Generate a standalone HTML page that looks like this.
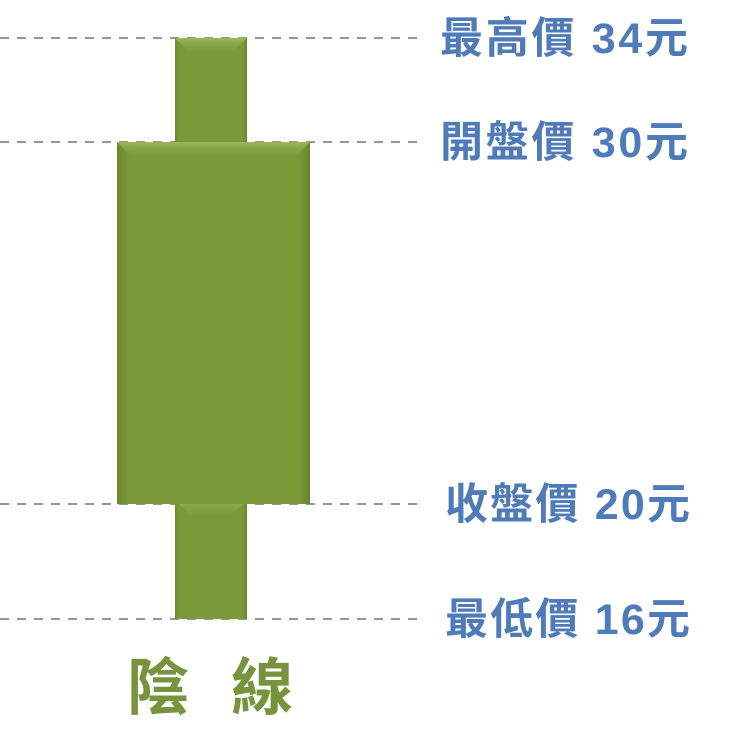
<!DOCTYPE html>
<html><head><meta charset="utf-8"><style>
html,body{margin:0;padding:0;background:#fff;width:742px;height:745px;overflow:hidden}
svg{display:block}
</style></head><body>
<svg id="chart" width="742" height="745" viewBox="0 0 742 745" xmlns="http://www.w3.org/2000/svg">
<defs>
<linearGradient id="g" x1="0" x2="1" y1="0" y2="0">
<stop offset="0" stop-color="#6a8a2e"/><stop offset="0.06" stop-color="#7a9a38"/><stop offset="0.94" stop-color="#7a9a38"/><stop offset="1" stop-color="#66862c"/>
</linearGradient>
<linearGradient id="gt" x1="0" x2="0" y1="0" y2="1">
<stop offset="0" stop-color="#9cb85e"/><stop offset="1" stop-color="#7a9a38" stop-opacity="0"/>
</linearGradient>
</defs>
<g id="grid"></g>
<g id="marks"></g>
<g id="labels"></g>
<text x="210" y="709" text-anchor="middle" font-family="'Liberation Sans','Noto Sans CJK TC',sans-serif" font-size="62" font-weight="bold" fill="#77933c" textLength="166" lengthAdjust="spacing">陰 線</text>
</svg>
<script>
const priceNames = ["最高價","開盤價","收盤價","最低價"];
const priceValues = [34, 30, 20, 16];
const open = 30, close = 20, high = 34, low = 16;

// illustrative (non-linear) price axis: piecewise mapping
const domain = [16, 20, 30, 34];
const rangeY = [619, 504, 142, 38];
function y(v){
  for(let i=0;i<domain.length-1;i++){
    if(v<=domain[i+1] || i===domain.length-2){
      const t=(v-domain[i])/(domain[i+1]-domain[i]);
      return rangeY[i]+t*(rangeY[i+1]-rangeY[i]);
    }
  }
}
const NS="http://www.w3.org/2000/svg";
function mk(tag,attrs,parent){const e=document.createElementNS(NS,tag);for(const k in attrs)e.setAttribute(k,attrs[k]);parent.appendChild(e);return e;}
const grid=document.getElementById('grid'), marks=document.getElementById('marks'), labels=document.getElementById('labels');

priceValues.forEach((v,i)=>{
  const yy=y(v);
  const l=mk('line',{x1:0,x2:425,y1:yy,y2:yy,stroke:'#8e989e','stroke-width':2,'stroke-dasharray':'9 8'},grid);
  
  
  const x0 = i<2 ? 440 : 445;
  const x1 = i<2 ? 688 : 690;
  const t=mk('text',{x:x0,y:yy+15,'font-family':"'Liberation Sans','Noto Sans CJK TC',sans-serif",'font-size':43,'font-weight':'bold',fill:'#4f7bb8',textLength:x1-x0,lengthAdjust:'spacing'},labels);
  t.textContent = priceNames[i]+" "+v+"元";
  
  
});

const wx0=175, wx1=247, bx0=117, bx1=310;
function bar(x0,x1,y0,y1,name){
  const r=mk('rect',{x:x0,y:y0,width:x1-x0,height:y1-y0,fill:'url(#g)'},marks);
  
  
  const b=Math.min(18,(x1-x0)/4);
  mk('polygon',{points:`${x0},${y0} ${x1},${y0} ${x1-b},${y0+b} ${x0+b},${y0+b}`,fill:'url(#gt)'},marks);
}
bar(wx0,wx1,y(high),y(Math.max(open,close))+4,'upper-shadow');
bar(wx0,wx1,y(Math.min(open,close))-4,y(low),'lower-shadow');
bar(bx0,bx1,y(Math.max(open,close)),y(Math.min(open,close)),'candle-body');
</script>
</body></html>
